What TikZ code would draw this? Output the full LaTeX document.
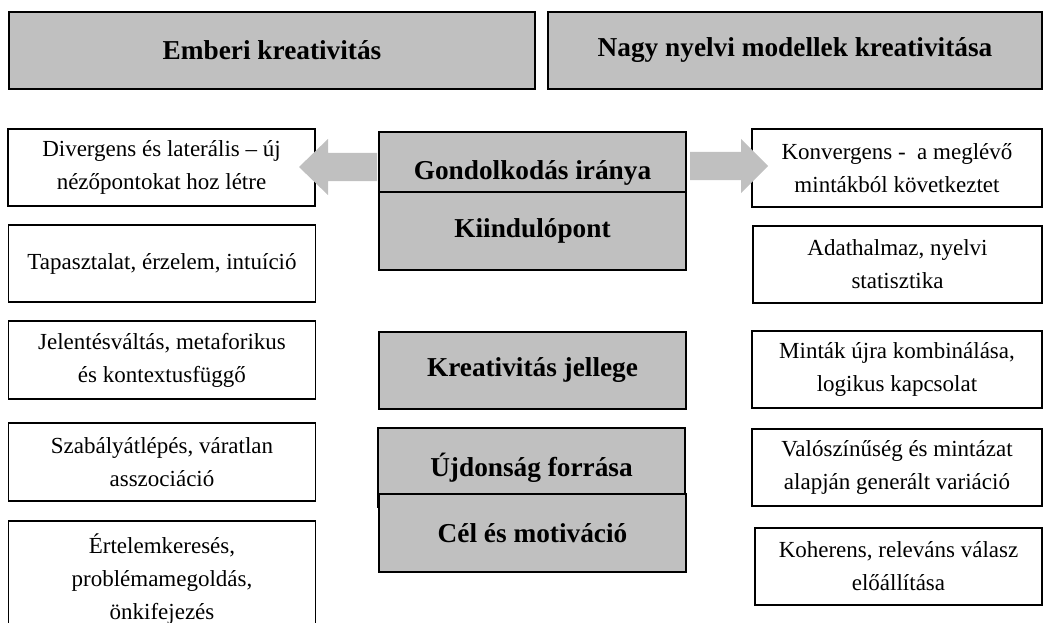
\documentclass[tikz,border=0pt]{standalone}
\usepackage{fontspec}
\setmainfont{Liberation Serif}
\usetikzlibrary{calc}
\definecolor{boxgray}{HTML}{C0C0C0}
\definecolor{arrowgray}{HTML}{C0C0C0}
\begin{document}
\begin{tikzpicture}[x=1pt,y=-1pt,
  every node/.style={inner sep=0pt, outer sep=0pt, align=center},
  graybox/.style={draw=black, line width=1.8pt, fill=boxgray,
    font=\fontsize{27.3}{34}\selectfont\bfseries},
  headbox/.style={graybox, minimum height=77pt},
  midbox/.style={graybox, minimum width=307pt},
  txtbox/.style={draw=black, line width=1.8pt, fill=white,
    font=\fontsize{23}{33}\selectfont},
  lbox/.style={txtbox, minimum width=307pt},
  rbox/.style={txtbox, minimum width=290pt, minimum height=77pt},
  blockarrow/.style={fill=arrowgray, draw=none}]
\path[use as bounding box, fill=white] (0,0) rectangle (1047,623);

% headers
\node[headbox, minimum width=526pt] (hl) at (272,50.5) {Emberi kreativitás};
\node[headbox, minimum width=494pt] (hr) at (795,50.5) {Nagy nyelvi modellek kreativitása};

% left column
\node[lbox, minimum height=77pt] (L1) at (161.5,167.5) {Divergens és laterális – új\\nézőpontokat hoz létre};
\node[lbox, minimum height=77pt] (L2) at (162,263.5) {Tapasztalat, érzelem, intuíció};
\node[lbox, minimum height=78pt] (L3) at (162,360) {Jelentésváltás, metaforikus\\és kontextusfüggő};
\node[lbox, minimum height=78pt] (L4) at (162,462) {Szabályátlépés, váratlan\\asszociáció};
\node[lbox, minimum height=116pt] (L5) at (162,579) {Értelemkeresés,\\problémamegoldás,\\önkifejezés};

% centre column
\node[midbox, minimum height=60pt, text height=34pt, text depth=0pt] (C1) at (532.5,162) {Gondolkodás iránya};
\node[midbox, minimum height=78pt] (C2) at (532.5,231) {Kiindulópont};
\node[midbox, minimum height=77pt] (C3) at (532.5,370.5) {Kreativitás jellege};
\node[midbox, minimum height=79pt] (C4) at (531.5,467.5) {Újdonság forrása};
\node[midbox, minimum height=78pt] (C5) at (532.5,533) {Cél és motiváció};

% right column
\node[rbox, minimum height=78pt] (R1) at (897,168) {Konvergens -\ \ a meglévő\\mintákból következtet};
\node[rbox, minimum width=289pt] (R2) at (897.5,264.5) {Adathalmaz, nyelvi\\statisztika};
\node[rbox] (R3) at (897,369.5) {Minták újra kombinálása,\\logikus kapcsolat};
\node[rbox] (R4) at (897,467.5) {Valószínűség és mintázat\\alapján generált variáció};
\node[rbox, minimum width=287pt] (R5) at (898.5,566.5) {Koherens, releváns válasz\\előállítása};

% block arrows
\coordinate (la0) at ($(C1.west)+(-2,5)$);
\coordinate (latip) at ($(L1.east)+(-16,-0.5)$);
\fill[blockarrow] ($(la0)+(0,-14)$) -- ($(latip)+(29,-14)$) -- ($(latip)+(29,-28)$)
  -- (latip) -- ($(latip)+(29,28)$) -- ($(latip)+(29,14)$) -- ($(la0)+(0,14)$) -- cycle;

\coordinate (ra0) at ($(C1.east)+(4,4)$);
\coordinate (ratip) at ($(R1.west)+(16,-2)$);
\fill[blockarrow] ($(ra0)+(0,-14)$) -- ($(ratip)+(-27,-14)$) -- ($(ratip)+(-27,-27)$)
  -- (ratip) -- ($(ratip)+(-27,27)$) -- ($(ratip)+(-27,14)$) -- ($(ra0)+(0,14)$) -- cycle;
\end{tikzpicture}
\end{document}
